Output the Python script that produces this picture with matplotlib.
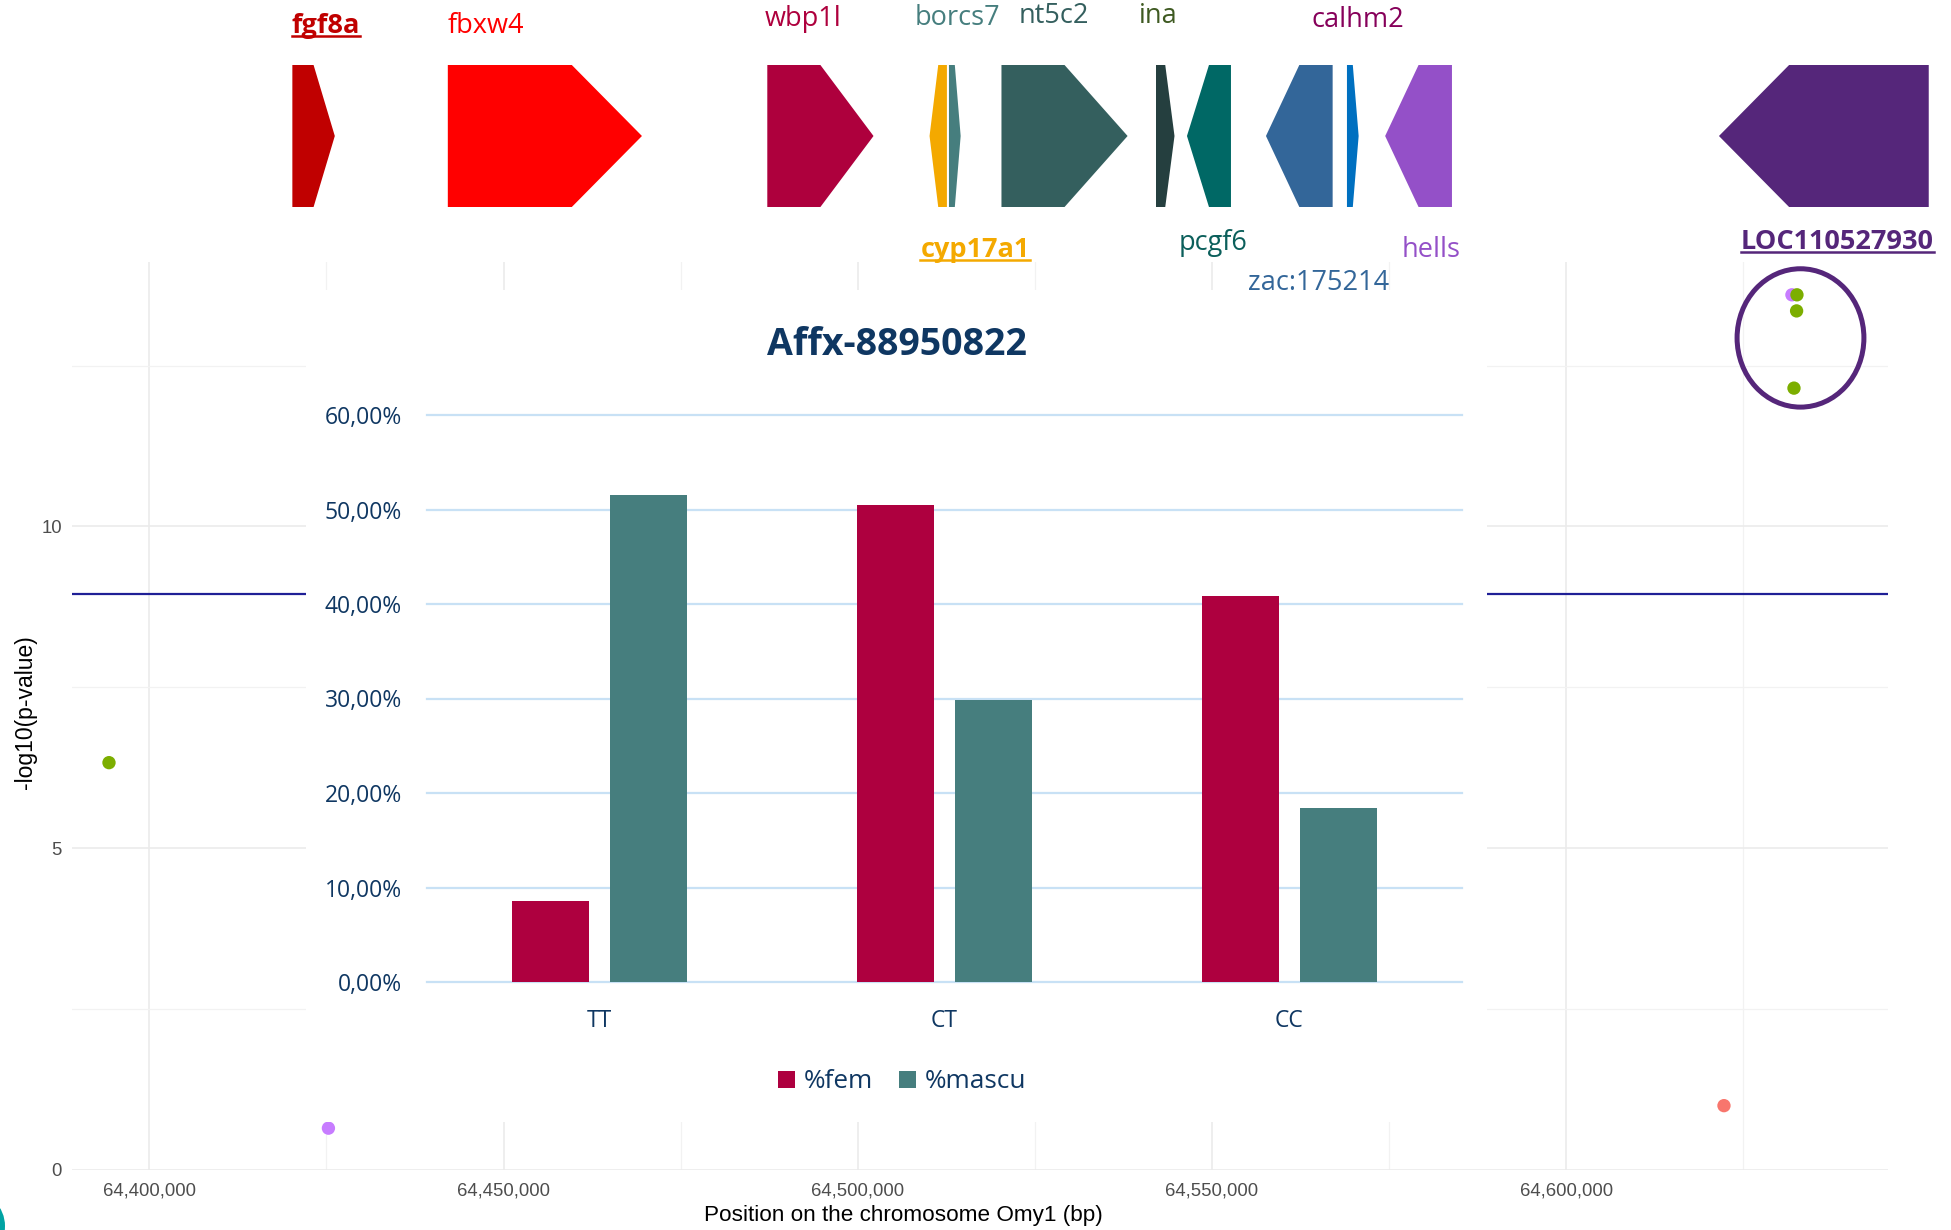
import matplotlib
matplotlib.use("Agg")
import matplotlib.pyplot as plt
from matplotlib.patches import Polygon, Rectangle, Ellipse, Patch
from matplotlib.lines import Line2D
from matplotlib.ticker import MultipleLocator, FuncFormatter
from matplotlib.transforms import IdentityTransform

plt.rcParams["font.family"] = ["Liberation Sans", "DejaVu Sans"]

# ---------------- data ----------------
# SNP association results along Omy1
snp_pos = [64_394_320, 64_425_290, 64_622_250, 64_631_840, 64_632_550, 64_632_500, 64_632_130]
snp_logp = [6.33, 0.65, 1.00, 13.60, 13.60, 13.35, 12.15]
snp_group = [2, 4, 1, 4, 2, 2, 2]
threshold = 8.95

# gene models in the region
gene_names = ["fgf8a", "fbxw4", "wbp1l", "cyp17a1", "borcs7", "nt5c2", "ina",
              "pcgf6", "zac:175214", "calhm2", "hells", "LOC110527930"]
gene_start = [64_420_200, 64_442_140, 64_487_230, 64_510_130, 64_512_870, 64_520_280,
              64_542_090, 64_546_460, 64_557_610, 64_569_040, 64_574_430, 64_621_540]
gene_end = [64_426_190, 64_469_540, 64_502_220, 64_512_580, 64_514_520, 64_538_080,
            64_544_700, 64_552_670, 64_567_020, 64_570_690, 64_583_860, 64_651_150]
gene_strand = ["+", "+", "+", "-", "+", "+", "+", "-", "-", "+", "-", "-"]

# sex ratio per genotype of the top SNP
snp_name = "Affx-88950822"
genotypes = ["TT", "CT", "CC"]
pct_fem = [0.0858, 0.505, 0.4085]
pct_mascu = [0.515, 0.298, 0.1845]

# ---------------- styles ----------------
hue = {1: "#F8766D", 2: "#7CAE00", 3: "#00BFC4", 4: "#C77CFF"}
arrow_fill = {
    "fgf8a": "#C00000", "fbxw4": "#FF0000", "wbp1l": "#AE003D", "cyp17a1": "#F4A900",
    "borcs7": "#467E7E", "nt5c2": "#345F5E", "ina": "#253F3F", "pcgf6": "#006865",
    "zac:175214": "#336699", "calhm2": "#0070C0", "hells": "#9450C8",
    "LOC110527930": "#55267A",
}
label_color = dict(arrow_fill)
label_color.update({"ina": "#3F5A22", "calhm2": "#86005A", "pcgf6": "#0B5F5B"})
# (centre x, baseline y) in pixels from the top-left, bold/underlined flag
label_layout = {
    "fgf8a": (326, 33, True), "fbxw4": (486, 33, False), "wbp1l": (803, 26, False),
    "borcs7": (957, 25, False), "nt5c2": (1054, 23, False), "ina": (1158, 23, False),
    "calhm2": (1358, 27, False), "cyp17a1": (975, 257, True), "pcgf6": (1213, 250, False),
    "zac:175214": (1319, 290, False), "hells": (1431, 257, False),
    "LOC110527930": (1837, 249, True),
}
navy = "#0F3762"
fem_color, mascu_color = "#AE003F", "#467E7E"

W, H = 1951, 1230
fig = plt.figure(figsize=(W / 100, H / 100), dpi=100)
fig.patch.set_facecolor("white")


def fx(x):
    return x / W


def fy(y):
    return 1 - y / H


# ---------------- association panel ----------------
L, R, T, B = 72, 1888, 262, 1170
ax = fig.add_axes([fx(L), fy(B), (R - L) / W, (B - T) / H])
ax.set_xlim(64_389_100, 64_645_400)
ax.set_ylim(0, 14.11)
ax.xaxis.set_major_locator(MultipleLocator(50_000))
ax.xaxis.set_minor_locator(MultipleLocator(25_000))
ax.yaxis.set_major_locator(MultipleLocator(5))
ax.yaxis.set_minor_locator(MultipleLocator(2.5))
ax.xaxis.set_major_formatter(FuncFormatter(lambda v, p: f"{int(round(v)):,}"))
ax.grid(which="major", color="#EBEBEB", lw=1.2)
ax.grid(which="minor", color="#F2F2F2", lw=0.9)
ax.set_axisbelow(True)
for s in ax.spines.values():
    s.set_visible(False)
ax.tick_params(which="both", length=0)
ax.tick_params(axis="x", labelsize=13.3, labelcolor="#4D4D4D", pad=9)
ax.tick_params(axis="y", labelsize=13.3, labelcolor="#4D4D4D", pad=7.2)

ax.axhline(threshold, color="#1F1F96", lw=1.6, zorder=2)
ax.scatter(snp_pos, snp_logp, c=[hue[g] for g in snp_group], s=9.6 ** 2,
           linewidths=0, zorder=3, clip_on=False)

# highlight around the top cluster
ax.add_patch(Ellipse((64_633_050, 12.93), 17_900, 2.15, fill=False,
                     edgecolor="#55267A", lw=3.6, zorder=4, clip_on=False))

fig.text(fx(25), fy(712), "-log10(p-value)", rotation=90, ha="center", va="center",
         fontsize=16.5, color="black")
fig.text(fx(903), fy(1215), "Position on the chromosome Omy1 (bp)", ha="center",
         va="center", fontsize=16.2, color="black")

# ---------------- gene track ----------------
y_top = (B - 65) / (B - T)
y_bot = (B - 207) / (B - T)
y_mid = (y_top + y_bot) / 2
max_head = 9_900
gtrans = ax.get_xaxis_transform()
for name, s0, e0, strand in zip(gene_names, gene_start, gene_end, gene_strand):
    head = min(0.5 * (e0 - s0), max_head)
    if strand == "+":
        verts = [(s0, y_bot), (s0, y_top), (e0 - head, y_top), (e0, y_mid), (e0 - head, y_bot)]
    else:
        verts = [(e0, y_bot), (e0, y_top), (s0 + head, y_top), (s0, y_mid), (s0 + head, y_bot)]
    ax.add_patch(Polygon(verts, closed=True, facecolor=arrow_fill[name], edgecolor="none",
                         transform=gtrans, clip_on=False, zorder=5))

gene_texts = []
for name in gene_names:
    x, yb, strong = label_layout[name]
    t = fig.text(fx(x), fy(yb), name, ha="center", va="baseline", fontsize=19.5,
                 family=["Open Sans", "DejaVu Sans"],
                 weight="bold" if strong else "normal", color=label_color[name], zorder=6)
    gene_texts.append((t, yb, strong, label_color[name]))

# ---------------- genotype bar chart ----------------
fig.add_artist(Rectangle((fx(306), fy(1122)), (1487 - 306) / W, (1122 - 290) / H,
                         transform=fig.transFigure, facecolor="white", edgecolor="none",
                         zorder=1))

ax2 = fig.add_axes([fx(427), fy(982), (1462 - 427) / W, (982 - 415) / H])
ax2.set_zorder(2)
ax2.patch.set_alpha(0)
ax2.set_xlim(-0.5, 2.5)
ax2.set_ylim(0, 0.6)
xs = range(len(genotypes))
off, bw = 0.142, 0.223
ax2.bar([i - off for i in xs], pct_fem, width=bw, color=fem_color, zorder=3, label="%fem")
ax2.bar([i + off for i in xs], pct_mascu, width=bw, color=mascu_color, zorder=3, label="%mascu")
ax2.set_yticks([0, 0.1, 0.2, 0.3, 0.4, 0.5, 0.6])
ax2.yaxis.set_major_formatter(FuncFormatter(lambda v, p: f"{v * 100:.2f}%".replace(".", ",")))
ax2.set_xticks(list(xs))
ax2.set_xticklabels(genotypes)
ax2.grid(axis="y", color="#C8E1F5", lw=1.6, clip_on=False)
ax2.set_axisbelow(True)
for s in ax2.spines.values():
    s.set_visible(False)
ax2.tick_params(length=0, labelsize=16.5, labelcolor=navy)
ax2.tick_params(axis="x", pad=19.5)
ax2.tick_params(axis="y", pad=18)
for lab in ax2.get_xticklabels() + ax2.get_yticklabels():
    lab.set_family(["Open Sans", "DejaVu Sans"])
for gl in ax2.get_ygridlines():
    gl.set_clip_on(False)

fig.text(fx(897), fy(345), snp_name, ha="center", va="center", fontsize=27,
         weight="bold", color=navy, family=["Open Sans", "DejaVu Sans"], zorder=3)

ax2.legend(handles=[Patch(facecolor=fem_color), Patch(facecolor=mascu_color)],
           labels=["%fem", "%mascu"], loc="center", bbox_to_anchor=(fx(902), fy(1082)),
           bbox_transform=fig.transFigure, ncol=2, frameon=False,
           prop={"family": ["Open Sans", "DejaVu Sans"], "size": 18.8},
           labelcolor=navy, handlelength=0.66, handleheight=0.66,
           handletextpad=0.31, columnspacing=1.0, borderpad=0)

# teal corner ornament
fig.add_artist(Ellipse((-30, H - 1226), 70, 70, transform=IdentityTransform(),
                       facecolor="#00A3A3", edgecolor="none", zorder=7))

# underline the highlighted gene names
fig.canvas.draw()
renderer = fig.canvas.get_renderer()
for t, yb, strong, col in gene_texts:
    if not strong:
        continue
    bb = t.get_window_extent(renderer)
    yl = H - (yb + 3)
    fig.add_artist(Line2D([bb.x0, bb.x1], [yl, yl], transform=IdentityTransform(),
                          color=col, lw=1.8, zorder=6))

fig.savefig("out.png", dpi=100, facecolor="white")
